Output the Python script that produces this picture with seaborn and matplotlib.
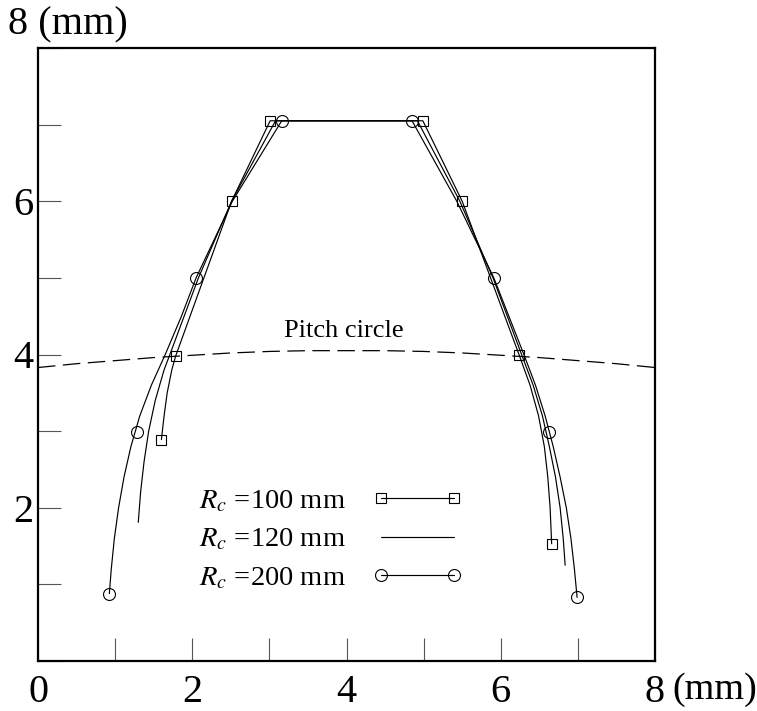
import matplotlib
matplotlib.use("Agg")
import matplotlib.pyplot as plt
import seaborn as sns
import pandas as pd
from matplotlib.lines import Line2D

# ---------------- data (mm) ----------------
rc100_x = [1.60, 1.635, 1.675, 1.735, 1.785, 2.51, 3.01, 4.99, 5.50, 6.24, 6.38, 6.49, 6.565, 6.61, 6.64, 6.66]
rc100_y = [2.89, 3.20, 3.50, 3.80, 3.98, 6.00, 7.05, 7.05, 6.00, 3.99, 3.60, 3.20, 2.80, 2.40, 2.00, 1.53]
rc100_mx = [1.60, 1.79, 2.51, 3.01, 4.99, 5.50, 6.24, 6.66]
rc100_my = [2.89, 3.98, 6.00, 7.05, 7.05, 6.00, 3.99, 1.53]

rc120_x = [1.30, 1.33, 1.375, 1.435, 1.52, 1.635, 1.71, 2.08, 2.51, 3.08, 4.92, 5.47, 5.90, 6.27, 6.42, 6.54, 6.63, 6.71, 6.77, 6.81, 6.835]
rc120_y = [1.81, 2.20, 2.60, 3.00, 3.40, 3.80, 4.00, 5.00, 6.00, 7.05, 7.05, 6.00, 5.00, 4.00, 3.60, 3.20, 2.80, 2.40, 2.00, 1.60, 1.25]

rc200_x = [0.925, 0.95, 0.99, 1.045, 1.115, 1.205, 1.32, 1.47, 1.65, 1.86, 2.05, 2.52, 3.16, 4.85, 5.43, 5.91, 6.30, 6.45, 6.575, 6.68, 6.77, 6.85, 6.91, 6.955, 6.99]
rc200_y = [0.88, 1.20, 1.60, 2.00, 2.40, 2.80, 3.20, 3.60, 4.00, 4.50, 5.00, 6.00, 7.05, 7.05, 6.00, 5.00, 4.00, 3.60, 3.20, 2.80, 2.40, 2.00, 1.60, 1.20, 0.83]
rc200_mx = [0.925, 1.28, 2.05, 3.16, 4.85, 5.91, 6.63, 6.99]
rc200_my = [0.88, 2.99, 5.00, 7.05, 7.05, 5.00, 2.99, 0.83]

pitch_x = [0.0, 0.5, 1.0, 1.5, 2.0, 2.5, 3.0, 3.5, 4.0, 4.5, 5.0, 5.5, 6.0, 6.5, 7.0, 7.5, 8.0]
pitch_y = [3.83, 3.88, 3.92, 3.96, 3.99, 4.02, 4.04, 4.05, 4.05, 4.05, 4.04, 4.02, 3.99, 3.96, 3.92, 3.88, 3.83]

series_labels = [r"$R_c$ =100 mm", r"$R_c$ =120 mm", r"$R_c$ =200 mm"]
x_tick_labels = ["0", "", "2", "", "4", "", "6", "", "8"]
y_tick_labels = ["", "", "2", "", "4", "", "6", "", ""]

# ---------------- style ----------------
sns.set_theme(style="white")
plt.rcParams["font.family"] = ["Liberation Serif", "DejaVu Serif"]
plt.rcParams["mathtext.fontset"] = "stix"
plt.rcParams["text.color"] = "black"

W, H = 757, 711
fig = plt.figure(figsize=(W / 100, H / 100), dpi=100)
ax = fig.add_axes([38 / W, 50 / H, 617 / W, 613 / H])

lw = 0.85
for cx, cy in [(rc100_x, rc100_y), (rc120_x, rc120_y), (rc200_x, rc200_y)]:
    sns.lineplot(x=cx, y=cy, sort=False, estimator=None, color="black",
                 linewidth=lw, ax=ax)

sns.lineplot(x=pitch_x, y=pitch_y, sort=False, estimator=None, color="black",
             linewidth=0.9, ax=ax)
ax.lines[-1].set_dashes((14, 6))

ax.plot(rc100_mx, rc100_my, linestyle="none", marker="s", markersize=7.4,
        mfc="none", mec="black", mew=0.8, zorder=4)
ax.plot(rc200_mx, rc200_my, linestyle="none", marker="o", markersize=8.6,
        mfc="none", mec="black", mew=0.8, zorder=4)

ax.set_xlim(0, 8)
ax.set_ylim(0, 8)
ax.set_xticks(range(9))
ax.set_yticks(range(9))
ax.set_xticklabels(x_tick_labels)
ax.set_yticklabels(y_tick_labels)
ax.tick_params(axis="both", direction="in", length=16.5, width=0.8,
               color="#555555", labelsize=29, labelcolor="black",
               bottom=True, left=True, top=False, right=False)
ax.tick_params(axis="x", pad=9)
ax.tick_params(axis="y", pad=3)
ax.set_xlabel("")
ax.set_ylabel("")
for sp in ax.spines.values():
    sp.set_visible(True)
    sp.set_color("black")
    sp.set_linewidth(1.6)

ax.text(3.96, 4.31, "Pitch circle", ha="center", va="center", fontsize=19,
        color="black")

fig.text(8 / W, 1 - 25 / H, "8 (mm)", ha="left", va="center", fontsize=29,
         color="black")
fig.text(672 / W, 1 - 690 / H, "(mm)", ha="left", va="center", fontsize=27.5,
         color="black")

handles = [
    Line2D([0], [0], color="black", lw=lw, marker="s", markersize=7.4,
           mfc="none", mec="black", mew=0.8),
    Line2D([0], [0], color="black", lw=lw),
    Line2D([0], [0], color="black", lw=lw, marker="o", markersize=8.6,
           mfc="none", mec="black", mew=0.8),
]
leg = ax.legend(handles, series_labels, loc="upper left",
                bbox_to_anchor=(199 / W, 1 - 488 / H),
                bbox_transform=fig.transFigure, frameon=False,
                markerfirst=False, numpoints=2, fontsize=20.5,
                handlelength=3.16, handletextpad=0.93, labelspacing=0.45,
                borderpad=0, borderaxespad=0)
for t in leg.get_texts():
    t.set_color("black")

fig.savefig("out.png", dpi=100)
